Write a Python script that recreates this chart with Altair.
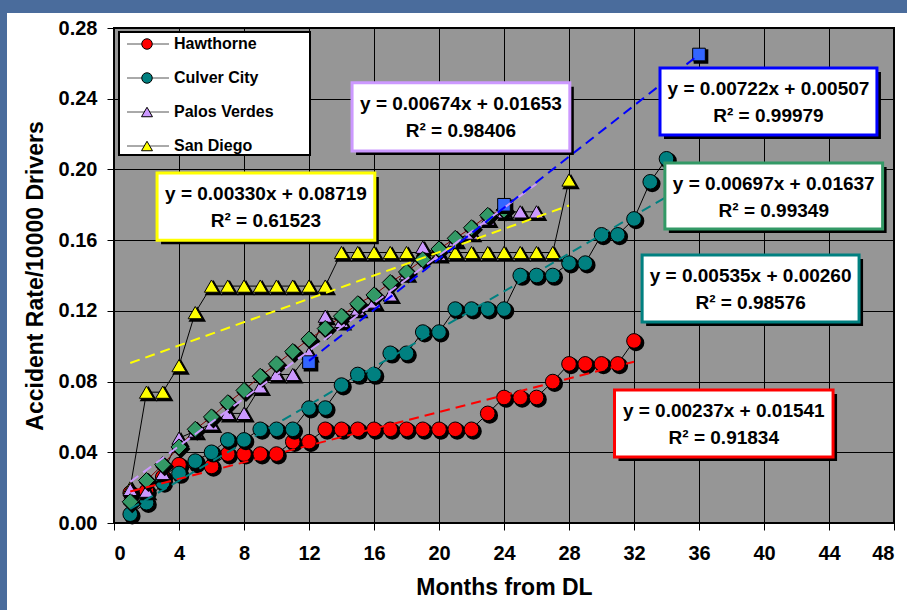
import altair as alt
import pandas as pd

# ---------------- data ----------------
hawthorne = [0.017, 0.018, 0.026, 0.033, 0.034, 0.032, 0.039, 0.039, 0.039, 0.039, 0.046, 0.046,
             0.053, 0.053, 0.053, 0.053, 0.053, 0.053, 0.053, 0.053, 0.053, 0.053,
             0.062, 0.071, 0.071, 0.071, 0.080, 0.090, 0.090, 0.090, 0.090, 0.103]
culver = [0.005, 0.0115, 0.023, 0.028, 0.035, 0.040, 0.047, 0.047, 0.053, 0.053, 0.053,
          0.065, 0.065, 0.078, 0.084, 0.084, 0.096, 0.096, 0.108, 0.108,
          0.121, 0.121, 0.121, 0.121, 0.140, 0.140, 0.140, 0.147, 0.147,
          0.163, 0.163, 0.172, 0.193, 0.206]
palos = [0.019, 0.018, 0.028, 0.048, 0.052, 0.056, 0.062, 0.062, 0.077, 0.084, 0.084, 0.096,
         0.117, 0.114, 0.121, 0.125, 0.129, 0.141, 0.156, 0.152, 0.160, 0.164, 0.172,
         0.176, 0.176, 0.176]
sandiego = [0.020, 0.074, 0.074, 0.089, 0.119,
            0.134, 0.134, 0.134, 0.134, 0.134, 0.134, 0.134, 0.134,
            0.153, 0.153, 0.153, 0.153, 0.153, 0.153, 0.153, 0.153, 0.153, 0.153, 0.153, 0.153,
            0.153, 0.153, 0.194]
green = [0.012, 0.024, 0.033, 0.043, 0.053, 0.060, 0.068, 0.075, 0.083, 0.090, 0.097, 0.104,
         0.110, 0.117, 0.124, 0.129, 0.136, 0.142, 0.149, 0.155, 0.161, 0.167, 0.174, 0.177]
blue_months = [12, 24, 36]
blue = [0.091, 0.180, 0.265]

# trendlines: slope, intercept, first month, last month, colour
trend_names = ["Hawthorne", "Culver City", "Palos Verdes", "San Diego", "Projection"]
trend_slope = [0.00237, 0.00535, 0.00674, 0.00330, 0.00722]
trend_icpt = [0.01541, 0.00260, 0.01653, 0.08719, 0.00507]
trend_x0 = [1, 1, 1, 1, 12]
trend_x1 = [32, 34, 26, 28, 36]
trend_col = ["#ff0000", "#008080", "#cc99ff", "#ffff00", "#0000ff"]

# equation boxes (data coordinates: month / rate)
box_l1 = ["y = 0.00330x + 0.08719", "y = 0.00674x + 0.01653", "y = 0.00722x + 0.00507",
          "y = 0.00697x + 0.01637", "y = 0.00535x + 0.00260", "y = 0.00237x + 0.01541"]
box_l2 = ["R² = 0.61523", "R² = 0.98406", "R² = 0.99979",
          "R² = 0.99349", "R² = 0.98576", "R² = 0.91834"]
box_col = ["#ffff00", "#cc99ff", "#0000ff", "#339966", "#008080", "#ff0000"]
box_x0 = [2.65, 14.65, 33.6, 33.9, 32.5, 30.8]
box_x1 = [16.05, 28.05, 46.95, 47.3, 45.85, 44.25]
box_top = [0.198, 0.249, 0.2574, 0.2037, 0.1516, 0.0752]
box_bot = [0.160, 0.2104, 0.2195, 0.1663, 0.1137, 0.0373]

legend_names = ["Hawthorne", "Culver City", "Palos Verdes", "San Diego"]
legend_fill = ["#ff0000", "#008080", "#cc99ff", "#ffff00"]
legend_shape = ["circle", "circle", "triangle-up", "triangle-up"]

x_ticks = [0, 4, 8, 12, 16, 20, 24, 28, 32, 36, 40, 44, 48]
y_ticks = [0.0, 0.04, 0.08, 0.12, 0.16, 0.20, 0.24, 0.28]

FONT = "Liberation Sans"
PX_PER_RATE = 495 / 0.28

xs = alt.Scale(domain=[0, 48], nice=False, zero=False)
ys = alt.Scale(domain=[0, 0.28], nice=False)
xaxis = alt.Axis(values=x_ticks, title="Months from DL", format="d", grid=True)
yaxis = alt.Axis(values=y_ticks, title="Accident Rate/10000 Drivers", format=".2f", grid=True)


def X(f):
    return alt.X(f, type="quantitative", scale=xs, axis=xaxis)


def Y(f):
    return alt.Y(f, type="quantitative", scale=ys, axis=yaxis)


def sdf(vals, months=None):
    if months is None:
        months = list(range(1, len(vals) + 1))
    return pd.DataFrame({"month": months, "rate": vals})


# drawing order (bottom to top)
series = [
    (sdf(hawthorne), "#ff0000", "circle", 215, "black"),
    (sdf(culver), "#008080", "circle", 215, "black"),
    (sdf(sandiego), "#ffff00", "triangle-up", 200, "black"),
    (sdf(palos), "#cc99ff", "triangle-up", 200, "black"),
    (sdf(green), "#339966", "diamond", 260, "#800000"),
    (sdf(blue, blue_months), "#3366ff", "square", 160, None),
]

layers = []

# blue slide frame (outside the plot)
frame = pd.DataFrame({"a": [0]})
layers.append(alt.Chart(frame).mark_rect(color="#4a6c9c").encode(
    x=alt.value(-114), x2=alt.value(793), y=alt.value(-28), y2=alt.value(-15)))
layers.append(alt.Chart(frame).mark_rect(color="#4a6c9c").encode(
    x=alt.value(-114), x2=alt.value(-107), y=alt.value(-28), y2=alt.value(582)))

# connectors
for df, col, shp, size, lc in series:
    if lc is None:
        continue
    layers.append(alt.Chart(df).mark_line(color=lc, strokeWidth=1).encode(x=X("month"), y=Y("rate")))

# markers with shadows
for df, col, shp, size, lc in series:
    layers.append(alt.Chart(df).mark_point(shape=shp, size=size, filled=True, fill="black",
                                           stroke="black", opacity=1, xOffset=2, yOffset=2)
                  .encode(x=X("month"), y=Y("rate")))
    layers.append(alt.Chart(df).mark_point(shape=shp, size=size, filled=True, fill=col,
                                           stroke="black", strokeWidth=1, opacity=1)
                  .encode(x=X("month"), y=Y("rate")))

# trendlines
rows = []
for n, a, b, x0, x1, c in zip(trend_names, trend_slope, trend_icpt, trend_x0, trend_x1, trend_col):
    rows.append({"name": n, "month": x0, "rate": a * x0 + b, "col": c})
    rows.append({"name": n, "month": x1, "rate": a * x1 + b, "col": c})
tdf = pd.DataFrame(rows)
layers.append(alt.Chart(tdf).mark_line(strokeWidth=2, strokeDash=[10, 6]).encode(
    x=X("month"), y=Y("rate"), detail="name:N",
    color=alt.Color("col:N", scale=None)))

# equation boxes
bdf = pd.DataFrame({"l1": box_l1, "l2": box_l2, "col": box_col, "x0": box_x0, "x1": box_x1,
                    "top": box_top, "bot": box_bot})
bdf["xm"] = (bdf["x0"] + bdf["x1"]) / 2
bdf["y1"] = bdf["top"] - 21 / PX_PER_RATE
bdf["y2"] = bdf["top"] - 48 / PX_PER_RATE
layers.append(alt.Chart(bdf).mark_rect(fill="black", xOffset=4, x2Offset=4, yOffset=4, y2Offset=4)
              .encode(x=X("x0"), x2="x1", y=Y("top"), y2="bot"))
layers.append(alt.Chart(bdf).mark_rect(fill="white", strokeWidth=3).encode(
    x=X("x0"), x2="x1", y=Y("top"), y2="bot", stroke=alt.Stroke("col:N", scale=None)))
layers.append(alt.Chart(bdf).mark_text(font=FONT, fontWeight="bold", fontSize=19, color="black")
              .encode(x=X("xm"), y=Y("y1"), text="l1:N"))
layers.append(alt.Chart(bdf).mark_text(font=FONT, fontWeight="bold", fontSize=19, color="black")
              .encode(x=X("xm"), y=Y("y2"), text="l2:N"))

# legend (pixel positions inside plot)
layers.append(alt.Chart(frame).mark_rect(fill="white", stroke="black", strokeWidth=2).encode(
    x=alt.value(5), x2=alt.value(196), y=alt.value(4), y2=alt.value(127)))
for i, (nm, fc, shp) in enumerate(zip(legend_names, legend_fill, legend_shape)):
    yy = 16 + 34 * i
    layers.append(alt.Chart(frame).mark_rule(color="#555555", strokeWidth=1).encode(
        x=alt.value(13), x2=alt.value(55), y=alt.value(yy)))
    layers.append(alt.Chart(frame).mark_point(shape=shp, size=110 if shp == "circle" else 120,
                                              filled=True, fill=fc, stroke="black",
                                              strokeWidth=1, opacity=1).encode(
        x=alt.value(33), y=alt.value(yy)))
    layers.append(alt.Chart(frame).mark_text(text=nm, font=FONT, fontWeight="bold", fontSize=16,
                                             align="left", baseline="middle", color="black").encode(
        x=alt.value(60), y=alt.value(yy)))

chart = alt.layer(*layers).properties(
    width=780, height=495,
    padding={"left": 114, "top": 28, "right": 13, "bottom": 87},
    autosize=alt.AutoSizeParams(type="none"),
    background="white",
).configure_view(
    fill="#969696", stroke="black", strokeWidth=2
).configure_axis(
    labelFont=FONT, labelFontWeight="bold", labelFontSize=20, labelColor="black",
    titleFont=FONT, titleFontWeight="bold", titleFontSize=23, titleColor="black",
    tickColor="black", tickSize=7, tickWidth=1,
    gridColor="black", gridWidth=1, gridOpacity=1,
    domain=False, labelOverlap=False
).configure_axisX(
    labelPadding=13, titlePadding=13
).configure_axisY(
    labelPadding=10, titlePadding=11
)

chart.save("out.html", embed_options={"renderer": "svg", "actions": False})
